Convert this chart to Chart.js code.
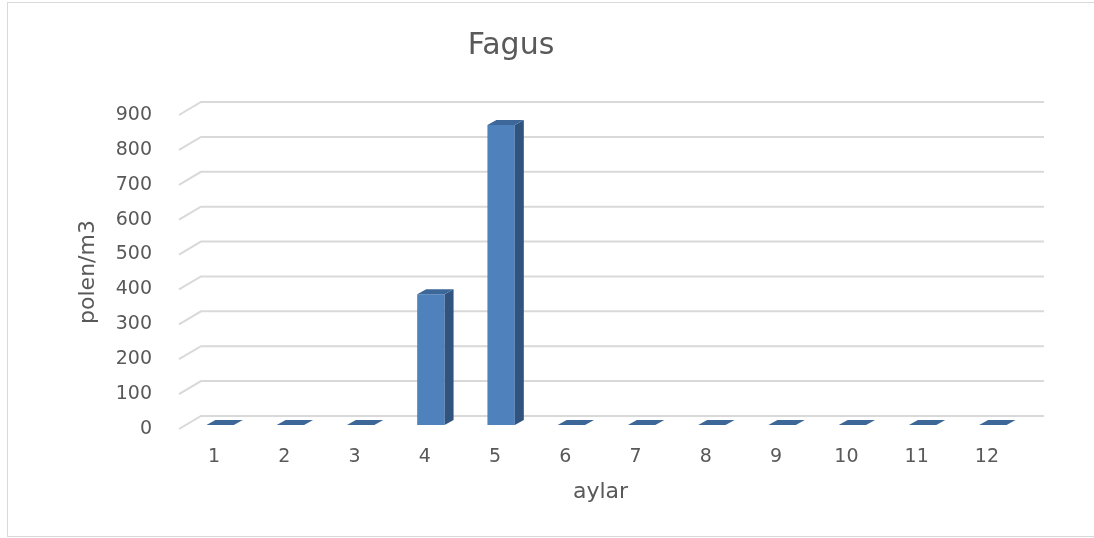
<!DOCTYPE html>
<html>
<head>
<meta charset="utf-8">
<script src="https://cdn.jsdelivr.net/npm/chart.js@4/dist/chart.umd.min.js"></script>
<style>
  html, body { margin: 0; padding: 0; background: #fff; overflow: hidden; }
  #frame { position: absolute; left: 7px; top: 2px; width: 1120px; height: 533px; border: 1px solid #d9d9d9; }
  #chart { position: absolute; left: 0; top: 0; }
</style>
</head>
<body>
<div id="frame"></div>
<canvas id="chart" width="1094" height="538"></canvas>
<script>
const months = ['1', '2', '3', '4', '5', '6', '7', '8', '9', '10', '11', '12'];
const pollen = [0, 0, 0, 375, 860, 0, 0, 0, 0, 0, 0, 0];
const yMin = 0;
const yMax = 900;
const yStep = 100;

const textColor = '#595959';
const gridColor = '#d9d9d9';
const wall = { dx: 22, dy: -13 };      // back wall offset
const barShift = { dx: 6, dy: -4 };    // bars sit between front and back
const barDepth = { dx: 9, dy: -5 };    // depth of each column

// fake 3d: slanted gridlines and columns with side/top faces
const fake3d = {
    id: 'fake3d',
    beforeDatasetsDraw(chart) {
        const ctx = chart.ctx;
        const y = chart.scales.y;
        const { left, right } = chart.chartArea;
        ctx.save();
        ctx.strokeStyle = gridColor;
        ctx.lineWidth = 2;
        y.ticks.forEach(t => {
            const py = y.getPixelForValue(t.value);
            ctx.beginPath();
            ctx.moveTo(left, py);
            ctx.lineTo(left + wall.dx, py + wall.dy);
            ctx.lineTo(right + wall.dx, py + wall.dy);
            ctx.stroke();
        });
        ctx.restore();
        ctx.save();
        ctx.translate(barShift.dx, barShift.dy);
    },
    afterDatasetsDraw(chart) {
        const ctx = chart.ctx;
        const meta = chart.getDatasetMeta(0);
        meta.data.forEach(bar => {
            const { x, y, width, base } = bar.getProps(['x', 'y', 'width', 'base'], true);
            const l = x - width / 2, r = x + width / 2;
            // side
            ctx.fillStyle = '#31547f';
            ctx.beginPath();
            ctx.moveTo(r, y);
            ctx.lineTo(r + barDepth.dx, y + barDepth.dy);
            ctx.lineTo(r + barDepth.dx, base + barDepth.dy);
            ctx.lineTo(r, base);
            ctx.closePath();
            ctx.fill();
            // top
            ctx.fillStyle = '#3d6699';
            ctx.beginPath();
            ctx.moveTo(l, y);
            ctx.lineTo(r, y);
            ctx.lineTo(r + barDepth.dx, y + barDepth.dy);
            ctx.lineTo(l + barDepth.dx, y + barDepth.dy);
            ctx.closePath();
            ctx.fill();
        });
        ctx.restore();
    }
};

new Chart(document.getElementById('chart'), {
    type: 'bar',
    data: {
        labels: months,
        datasets: [{
            data: pollen,
            backgroundColor: '#4f81bd',
            borderWidth: 0,
            barPercentage: 0.39,
            categoryPercentage: 1
        }]
    },
    options: {
        responsive: false,
        animation: false,
        layout: { padding: { left: 0, right: 72, top: 0, bottom: 0 } },
        plugins: {
            legend: { display: false },
            tooltip: { enabled: false },
            title: {
                display: true,
                text: 'Fagus',
                color: textColor,
                font: { family: 'DejaVu Sans', size: 30, weight: 'normal' },
                padding: { top: 28, bottom: 51 }
            }
        },
        scales: {
            x: {
                grid: { display: false, drawTicks: false },
                border: { display: false },
                ticks: { color: textColor, font: { family: 'DejaVu Sans', size: 19 }, padding: 17 },
                title: {
                    display: true,
                    text: 'aylar',
                    color: textColor,
                    font: { family: 'DejaVu Sans', size: 22 },
                    padding: { top: 0, bottom: 33 }
                },
                afterFit(scale) { scale.height = 109; }
            },
            y: {
                min: yMin,
                max: yMax,
                grid: { display: false, drawTicks: false },
                border: { display: false },
                ticks: { stepSize: yStep, color: textColor, font: { family: 'DejaVu Sans', size: 19 }, padding: 27 },
                title: {
                    display: true,
                    text: 'polen/m3',
                    color: textColor,
                    font: { family: 'DejaVu Sans', size: 22 },
                    padding: { top: 75, bottom: 0 }
                },
                afterFit(scale) { scale.width = 179; }
            }
        }
    },
    plugins: [fake3d]
});
</script>
</body>
</html>
